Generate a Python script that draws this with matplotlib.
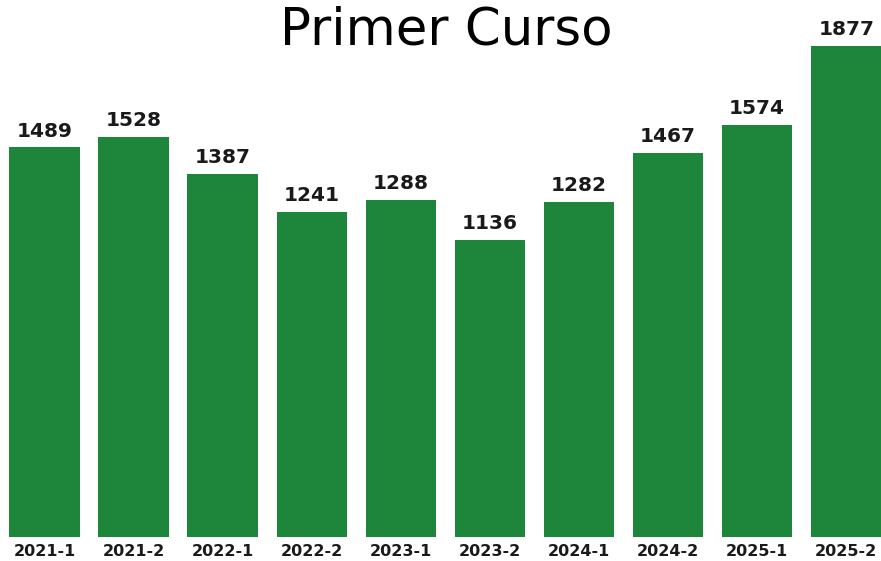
import matplotlib
matplotlib.use("Agg")
import matplotlib.pyplot as plt
import numpy as np

# periodos y alumnos de primer curso
periodos = ["2021-1", "2021-2", "2022-1", "2022-2", "2023-1",
            "2023-2", "2024-1", "2024-2", "2025-1", "2025-2"]
alumnos = [1489, 1528, 1387, 1241, 1288, 1136, 1282, 1467, 1574, 1877]

color_barra = "#1e863b"

fig = plt.figure(figsize=(8.81, 5.61), dpi=100)
ax = fig.add_axes([0.005, 0.0428, 0.996, 0.9326])

x = np.arange(len(periodos))
barras = ax.bar(x, alumnos, width=0.79, color=color_barra)

for b, v in zip(barras, alumnos):
    ax.annotate(str(v), (b.get_x() + b.get_width() / 2, v),
                xytext=(0, 5), textcoords="offset points",
                ha="center", va="bottom", fontsize=14.5,
                fontweight="bold", color="#1a1a1a")

ax.set_xlim(-0.45, 9.4)
ax.set_ylim(0, 2000)
ax.set_xticks(x)
ax.set_xticklabels(periodos, fontsize=11.5, fontweight="bold", color="#1a1a1a")
ax.tick_params(axis="x", length=0, pad=5)
ax.set_yticks([])
for s in ax.spines.values():
    s.set_visible(False)

fig.text(0.507, 0.945, "Primer Curso", ha="center", va="center",
         fontsize=37, color="black")

fig.savefig("out.png", dpi=100)
